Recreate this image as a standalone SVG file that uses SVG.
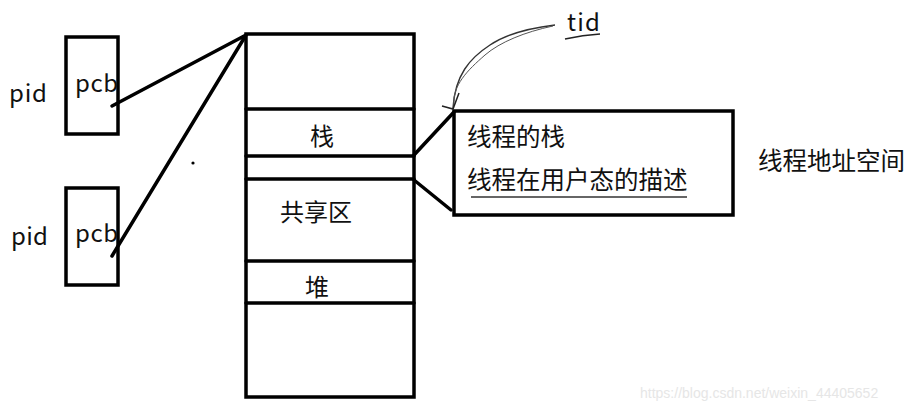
<svg xmlns="http://www.w3.org/2000/svg" width="920" height="409" viewBox="0 0 920 409">
<style>
.box{fill:none;stroke:#000;stroke-width:3.5}
.ln{stroke:#000;stroke-width:3.5;fill:none;stroke-linecap:round}
.t{font-family:"Noto Sans CJK SC","Noto Sans",sans-serif;font-size:24px;fill:#111}
.big{font-size:24.5px}
.wm{font-family:"Liberation Sans",sans-serif;font-size:14px;fill:#e6e6e6}
</style>
<rect width="920" height="409" fill="#fff"/>
<g id="pcb1">
<rect class="box" x="66" y="37" width="52" height="97"/>
<text class="t" x="75" y="92" textLength="43">pcb</text>
<text class="t" x="9" y="102" textLength="38">pid</text>
</g>
<g id="pcb2">
<rect class="box" x="66" y="188" width="52" height="97"/>
<text class="t" x="75" y="242" textLength="43">pcb</text>
<text class="t" x="11" y="245" textLength="37">pid</text>
</g>
<g id="addr-space">
<rect class="box" x="246" y="34" width="168" height="363"/>
<line class="ln" x1="246" y1="109" x2="414" y2="109"/>
<line class="ln" x1="246" y1="156" x2="414" y2="156"/>
<line class="ln" x1="246" y1="179" x2="414" y2="179"/>
<line class="ln" x1="246" y1="261" x2="414" y2="261"/>
<line class="ln" x1="246" y1="303" x2="414" y2="303"/>
<text class="t" x="310" y="145">栈</text>
<text class="t" x="280" y="221">共享区</text>
<text class="t" x="305" y="296">堆</text>
</g>
<g id="thread-box">
<rect class="box" x="454" y="111" width="279" height="104"/>
<text class="t big" x="467" y="146">线程的栈</text>
<text class="t big" x="467" y="189">线程在用户态的描述</text>
<line x1="471" y1="197" x2="687" y2="197" stroke="#333" stroke-width="1.6"/>
</g>
<g id="tid">
<text class="t" x="567" y="31" textLength="33">tid</text>
<path d="M565 39 Q583 35 600 34" stroke="#222" stroke-width="1.6" fill="none"/>
</g>
<g id="label">
<text class="t big" x="758" y="170">线程地址空间</text>
</g>
<g id="watermark">
<text class="wm" x="640" y="398">https://blog.csdn.net/weixin_44405652</text>
</g>
<g id="connectors">
<line class="ln" x1="112" y1="106" x2="246" y2="35"/>
<line class="ln" x1="112" y1="256" x2="246" y2="35"/>
<line class="ln" x1="414" y1="155" x2="454" y2="112"/>
<line class="ln" x1="414" y1="180" x2="451" y2="210"/>
<circle cx="193" cy="163" r="1.6" fill="#000"/>
<path d="M555 25 C530 28 505 35 490 45 C470 58 455 75 453 108" stroke="#333" stroke-width="1.4" fill="none"/>
<path d="M553 26 C525 32 500 42 485 55 C468 70 452 85 454 106" stroke="#555" stroke-width="1" fill="none"/>
<path d="M442 106 L453 109 L459 93" stroke="#222" stroke-width="1.5" fill="none"/>
</g>
</svg>
